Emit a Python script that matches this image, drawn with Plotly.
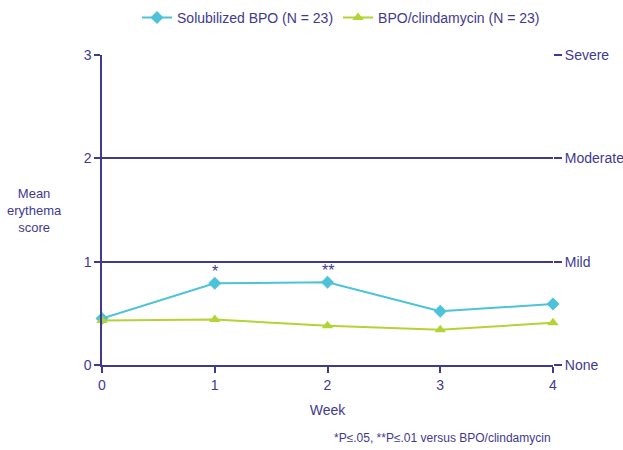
import plotly.graph_objects as go

weeks = [0, 1, 2, 3, 4]
solubilized_bpo = [0.45, 0.79, 0.80, 0.52, 0.59]
bpo_clindamycin = [0.43, 0.44, 0.38, 0.34, 0.41]
y_ticks = [0, 1, 2, 3]
severity_labels = ["None", "Mild", "Moderate", "Severe"]

NAVY = "#3f3a8f"
CYAN = "#4cc3d8"
GREEN = "#b4d334"
FONT = "Liberation Sans Narrow, Arial Narrow, Liberation Sans, sans-serif"

fig = go.Figure()
fig.add_trace(go.Scatter(
    x=weeks, y=solubilized_bpo, mode="lines+markers",
    name="Solubilized BPO (N = 23)",
    line=dict(color=CYAN, width=2),
    marker=dict(symbol="diamond", size=10, color=CYAN),
    cliponaxis=False,
))
fig.add_trace(go.Scatter(
    x=weeks, y=bpo_clindamycin, mode="lines+markers",
    name="BPO/clindamycin (N = 23)",
    line=dict(color=GREEN, width=2),
    marker=dict(symbol="triangle-up", size=10, color=GREEN),
    cliponaxis=False,
))
# dummy trace for secondary axis
fig.add_trace(go.Scatter(x=[None], y=[None], yaxis="y2", showlegend=False))

fig.update_layout(
    width=623, height=450,
    margin=dict(l=102, r=70, t=55, b=85, autoexpand=False),
    paper_bgcolor="white", plot_bgcolor="white",
    font=dict(family=FONT, size=13, color=NAVY),
    showlegend=True,
    legend=dict(orientation="h", x=0.53, xanchor="center", y=1.12, yanchor="middle",
                font=dict(size=14, color=NAVY)),
    xaxis=dict(range=[0, 4], tickvals=weeks, showgrid=False, zeroline=False,
               showline=True, linecolor=NAVY, linewidth=1.5, automargin=False,
               ticks="outside", ticklen=6, tickcolor=NAVY, tickwidth=1.5,
               tickfont=dict(size=14, color=NAVY),
               title=dict(text="Week", font=dict(size=14, color=NAVY), standoff=14)),
    yaxis=dict(range=[0, 3], tickvals=y_ticks, showgrid=True, gridcolor=NAVY, gridwidth=1.5,
               zeroline=False, showline=True, linecolor=NAVY, linewidth=1.5, automargin=False,
               ticks="outside", ticklen=6, tickcolor=NAVY, tickwidth=1.5,
               tickfont=dict(size=14, color=NAVY)),
    yaxis2=dict(range=[0, 3], tickvals=y_ticks, ticktext=severity_labels, overlaying="y",
                side="right", showgrid=False, zeroline=False, showline=False, automargin=False,
                ticks="outside", ticklen=8, tickcolor=NAVY, tickwidth=1.5,
                tickfont=dict(size=14, color=NAVY)),
)

fig.add_annotation(text="Mean<br>erythema<br>score", xref="paper", yref="paper",
                   x=-0.149, y=0.5, xanchor="center", yanchor="middle", showarrow=False,
                   font=dict(size=13, color=NAVY))
fig.add_annotation(text="*", x=1, y=solubilized_bpo[1], yshift=1, showarrow=False,
                   font=dict(size=16, color=NAVY), yanchor="bottom")
fig.add_annotation(text="**", x=2, y=solubilized_bpo[2], yshift=1, showarrow=False,
                   font=dict(size=16, color=NAVY), yanchor="bottom")
fig.add_annotation(text="*P≤.05, **P≤.01 versus BPO/clindamycin", xref="paper", yref="paper",
                   x=1.0, y=-0.235, xanchor="right", yanchor="middle", showarrow=False,
                   font=dict(size=12, color=NAVY))

fig.write_html("out.html")
